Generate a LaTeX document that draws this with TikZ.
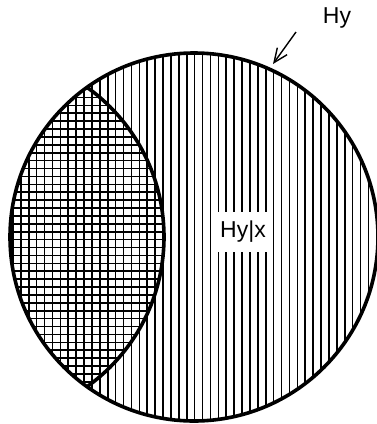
\documentclass[tikz,border=0pt]{standalone}
\usepackage{fontspec}
\setmainfont{Liberation Sans}
\usetikzlibrary{arrows.meta}
\tikzset{
  hatch/.style={line width=1.6pt},
  rim/.style={line width=3.6pt},
  lbl/.style={font=\fontsize{23}{26}\selectfont, inner sep=0pt},
}

\begin{document}
\begin{tikzpicture}[x=1pt,y=-1pt]


\useasboundingbox (0,0) rectangle (376,424);

\begin{scope}
\clip (194,237) circle (184pt);
\foreach \x in {0,...,47} \draw[hatch] (7.9*\x+5,50) -- (7.9*\x+5,425);
\end{scope}

\begin{scope}
\clip (194,237) circle (184pt);
\clip (-20,237) circle (184pt);
\fill[white] (0,40) rectangle (200,430);
\foreach \x in {0,...,25} \draw[hatch] (7.9*\x+5,50) -- (7.9*\x+5,425);
\foreach \y in {0,...,48} \draw[hatch] (0,7.9*\y+50) -- (200,7.9*\y+50);
\end{scope}

\begin{scope}
\clip (194,237) circle (184pt);
\draw[rim] (-20,237) circle (184pt);
\end{scope}
\draw[rim] (194,237) circle (184pt);

\node[lbl, fill=white, minimum width=60pt, minimum height=40pt] (hyx) at (243,232) {Hy|x};
\node[lbl] (hy) at (337,18) {Hy};
\coordinate (hytail) at (296,32);
\coordinate (hytip) at (273,64);
\draw[line width=1.4pt, -{Straight Barb[length=14pt,width=12pt]}] (hytail) -- (hytip);

\end{tikzpicture}
\end{document}
